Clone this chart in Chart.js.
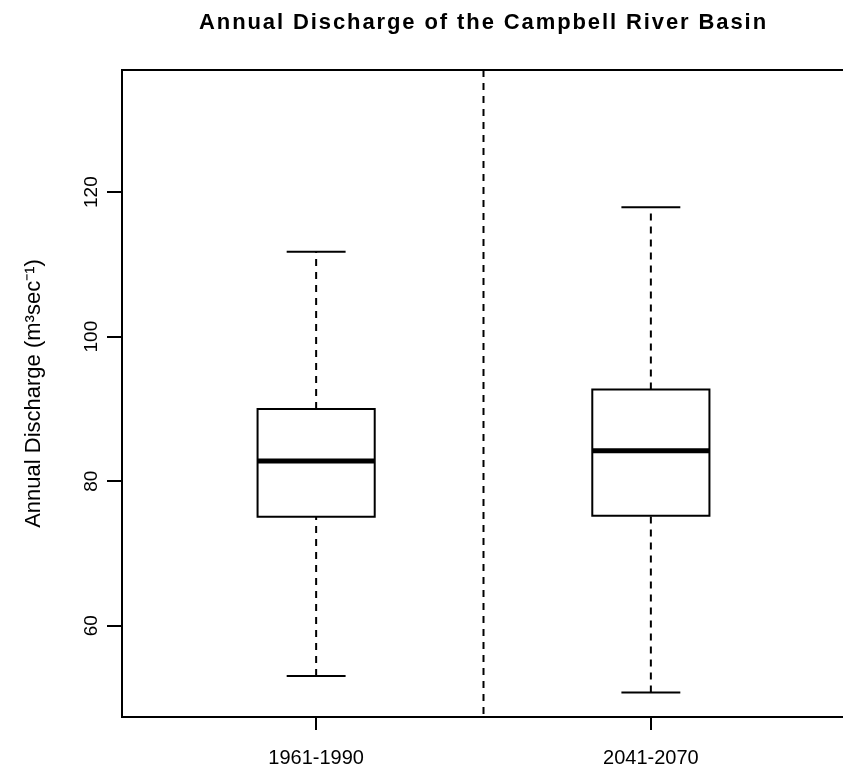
<!DOCTYPE html>
<html><head><meta charset="utf-8">
<script src="https://cdn.jsdelivr.net/npm/chart.js@4.4.0/dist/chart.umd.min.js"></script>
<style>
html,body{margin:0;padding:0;background:#fff;overflow:hidden;width:843px;height:771px}
#wrap{position:relative;width:850px;height:771px}
</style></head>
<body><div id="wrap"><canvas id="c"></canvas></div>
<script>
const chartTitle = 'Annual Discharge of the Campbell River Basin';
const yAxisTitle = 'Annual Discharge (m³sec⁻¹)';
const categories = ['1961-1990', '2041-2070'];
const whiskerLow = [53.05, 50.74];
const quartile1 = [75.06, 75.2];
const medians = [82.8, 84.2];
const quartile3 = [90.0, 92.7];
const whiskerHigh = [111.74, 117.9];
const yTicks = [60, 80, 100, 120];
const yRange = [47.36, 136.9];
const xRange = [0.42, 2.58];

const BOX_HALF = 0.175, CAP_HALF = 0.088;
const base = {showLine:true, pointRadius:0, pointHoverRadius:0, borderColor:'#000', borderWidth:2, fill:false, tension:0, borderJoinStyle:'miter', borderCapStyle:'butt'};
const dash = [7, 6];
const datasets = [];
categories.forEach((cat, i) => {
  const x = i + 1;
  datasets.push({...base, label: cat + ' upper whisker', borderDash: dash, data:[{x:x, y:quartile3[i]}, {x:x, y:whiskerHigh[i]}]});
  datasets.push({...base, label: cat + ' lower whisker', borderDash: dash, data:[{x:x, y:whiskerLow[i]}, {x:x, y:quartile1[i]}]});
  datasets.push({...base, label: cat + ' upper cap', data:[{x:x-CAP_HALF, y:whiskerHigh[i]}, {x:x+CAP_HALF, y:whiskerHigh[i]}]});
  datasets.push({...base, label: cat + ' lower cap', data:[{x:x-CAP_HALF, y:whiskerLow[i]}, {x:x+CAP_HALF, y:whiskerLow[i]}]});
  datasets.push({...base, label: cat + ' box', data:[
    {x:x-BOX_HALF, y:quartile1[i]}, {x:x+BOX_HALF, y:quartile1[i]},
    {x:x+BOX_HALF, y:quartile3[i]}, {x:x-BOX_HALF, y:quartile3[i]},
    {x:x-BOX_HALF, y:quartile1[i]}, {x:x+BOX_HALF, y:quartile1[i]}]});
  datasets.push({...base, label: cat + ' median', borderWidth:5, data:[{x:x-BOX_HALF, y:medians[i]}, {x:x+BOX_HALF, y:medians[i]}]});
});

const framePlugin = {
  id: 'rFrame',
  afterDraw(chart) {
    const ctx = chart.ctx, a = chart.chartArea;
    const xs = chart.scales.x;
    ctx.save();
    ctx.strokeStyle = '#000';
    ctx.lineWidth = 2;
    ctx.strokeRect(a.left, a.top, a.right - a.left, a.bottom - a.top);
    // dashed separator between the two periods
    const sepX = xs.getPixelForValue((1 + categories.length) / 2);
    ctx.setLineDash(dash);
    ctx.beginPath();
    ctx.moveTo(sepX, a.top);
    ctx.lineTo(sepX, a.bottom);
    ctx.stroke();
    ctx.setLineDash([]);
    // main title
    ctx.font = 'bold 22px "Liberation Sans", Arial, sans-serif';
    ctx.letterSpacing = '1.9px';
    ctx.fillStyle = '#000';
    ctx.textAlign = 'center';
    ctx.textBaseline = 'alphabetic';
    ctx.fillText(chartTitle, (a.left + a.right) / 2, 29);
    ctx.restore();
  }
};

new Chart(document.getElementById('c'), {
  type: 'scatter',
  data: { datasets },
  plugins: [framePlugin],
  options: {
    animation: false,
    responsive: true,
    maintainAspectRatio: false,
    layout: { padding: { top: 70, right: 5, left: 0, bottom: 0 } },
    plugins: { legend: { display: false }, tooltip: { enabled: false }, title: { display: false } },
    scales: {
      x: {
        type: 'linear', min: xRange[0], max: xRange[1],
        afterBuildTicks: s => { s.ticks = categories.map((c, i) => ({ value: i + 1 })); },
        afterFit: s => { s.height = 54; },
        ticks: { callback: v => categories[Math.round(v) - 1] ?? '', font: { family: '"Liberation Sans", Arial, sans-serif', size: 20 }, color: '#000', padding: 16, maxRotation: 0, minRotation: 0, autoSkip: false },
        grid: { drawOnChartArea: false, drawTicks: true, tickLength: 13, color: '#000', lineWidth: 2 },
        border: { display: true, color: '#000', width: 2 }
      },
      y: {
        type: 'linear', min: yRange[0], max: yRange[1],
        afterBuildTicks: s => { s.ticks = yTicks.map(v => ({ value: v })); },
        afterFit: s => { s.width = 122; },
        ticks: { font: { family: '"Liberation Sans", Arial, sans-serif', size: 19 }, color: '#000', padding: -1, minRotation: 90, maxRotation: 90, crossAlign: 'center' },
        grid: { drawOnChartArea: false, drawTicks: true, tickLength: 15, color: '#000', lineWidth: 2 },
        border: { display: true, color: '#000', width: 2 },
        title: { display: true, text: yAxisTitle, color: '#000', font: { family: '"Liberation Sans", Arial, sans-serif', size: 22 }, padding: { top: 21, bottom: 0 } }
      }
    }
  }
});
</script>
</body></html>
